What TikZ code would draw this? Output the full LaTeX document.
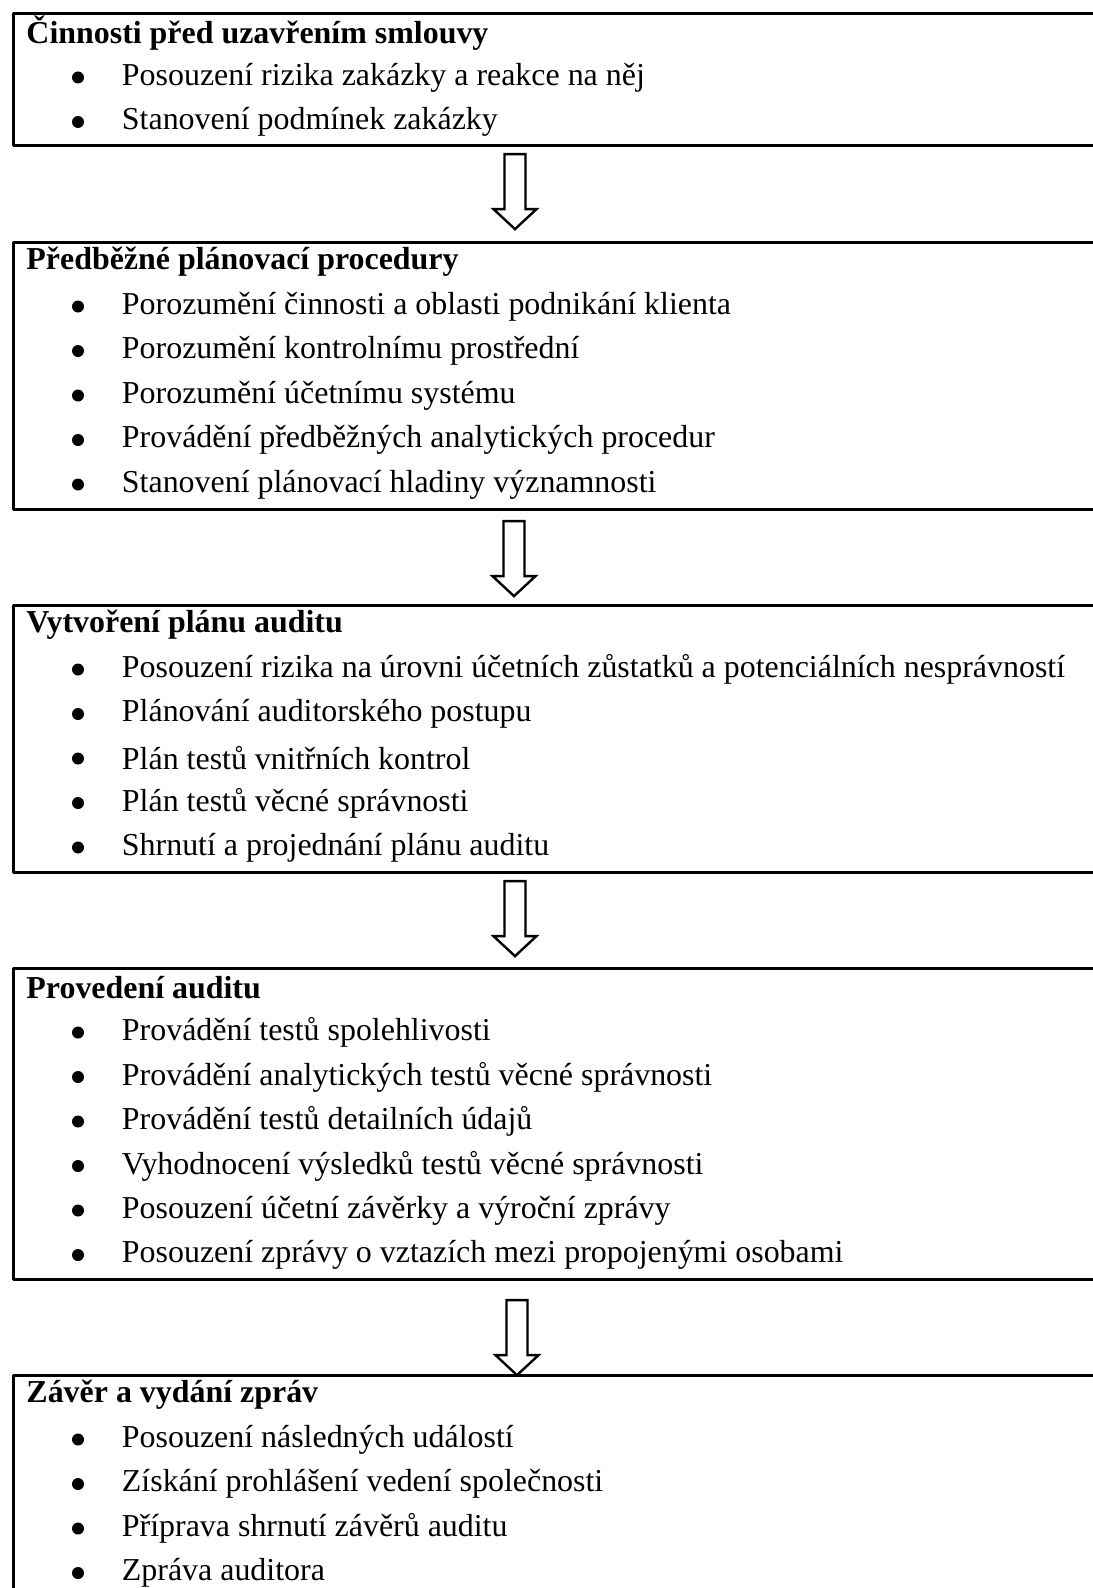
\documentclass[tikz,border=0pt]{standalone}
\usepackage{fontspec}
\setmainfont{Liberation Serif}
\usetikzlibrary{positioning,calc}

\def\pxu{0.4167pt}
\tikzset{
  stage/.style={draw,line width=1.3pt,rectangle,anchor=north west,inner sep=0pt,minimum width={1110*\pxu}},
  stagetitle/.style={anchor=west,inner sep=0pt,font=\fontsize{13.3}{15}\selectfont\bfseries},
  stageitem/.style={anchor=west,inner sep=0pt,font=\fontsize{13.3}{15}\selectfont},
  dot/.style={circle,fill,inner sep=0pt,minimum size={12*\pxu}},
  hollowarrow/.style={draw,line width=1pt,fill=white,line join=miter},
}

\begin{document}
\begin{tikzpicture}[x=\pxu,y=-\pxu,line cap=round,line join=round]
\path[use as bounding box] (0,0) rectangle (1093,1588);

% stages
\node[stage,minimum height={132*\pxu}] (b1) at (11.5,12) {};
\node[stage,minimum height={267*\pxu}] (b2) at (11.5,241) {};
\node[stage,minimum height={267*\pxu}] (b3) at (11.5,604) {};
\node[stage,minimum height={311*\pxu}] (b4) at (11.5,967) {};
\node[stage,minimum height={240*\pxu}] (b5) at (11.5,1374) {};

% titles
\node[stagetitle] (h1) at ($(b1.north west)+(14.5,21)$) {Činnosti před uzavřením smlouvy};
\node[stagetitle] (h2) at ($(b2.north west)+(14.5,21)$) {Předběžné plánovací procedury};
\node[stagetitle] (h3) at ($(b3.north west)+(14.5,21)$) {Vytvoření plánu auditu};
\node[stagetitle] (h4) at ($(b4.north west)+(14.5,21)$) {Provedení auditu};
\node[stagetitle] (h5) at ($(b5.north west)+(14.5,21)$) {Závěr a vydání zpráv};

% items
\foreach \b/\list in {
  b1/{Posouzení rizika zakázky a reakce na něj,Stanovení podmínek zakázky},
  b2/{Porozumění činnosti a oblasti podnikání klienta,Porozumění kontrolnímu prostřední,Porozumění účetnímu systému,Provádění předběžných analytických procedur,Stanovení plánovací hladiny významnosti},
  b3/{Posouzení rizika na úrovni účetních zůstatků a potenciálních nesprávností,Plánování auditorského postupu,Plán testů vnitřních kontrol,Plán testů věcné správnosti,Shrnutí a projednání plánu auditu},
  b4/{Provádění testů spolehlivosti,Provádění analytických testů věcné správnosti,Provádění testů detailních údajů,Vyhodnocení výsledků testů věcné správnosti,Posouzení účetní závěrky a výroční zprávy,Posouzení zprávy o vztazích mezi propojenými osobami},
  b5/{Posouzení následných událostí,Získání prohlášení vedení společnosti,Příprava shrnutí závěrů auditu,Zpráva auditora}}
{
  \foreach \t [count=\i] in \list {
    \node[dot] (\b-d\i) at ($(\b.north west)+(66.5,21+\i*44.5)$) {};
    \node[stageitem] (\b-i\i) at ($(\b.north west)+(110,21+\i*44.5)$) {\t};
  }
}

% arrows between stages
\coordinate (t1) at ($(b1.south west)+(503.5,7)$);
\coordinate (t2) at ($(b2.south west)+(502.5,10)$);
\coordinate (t3) at ($(b3.south west)+(503.5,7)$);
\coordinate (t4) at ($(b4.south west)+(505.5,19)$);
\foreach \k in {1,...,4}
  \draw[hollowarrow] (t\k) ++(-10.5,0) -- ++(21,0) -- ++(0,55) -- ++(11,0)
    -- ++(-21.5,20) -- ++(-21.5,-20) -- ++(11,0) -- cycle;
\end{tikzpicture}
\end{document}
